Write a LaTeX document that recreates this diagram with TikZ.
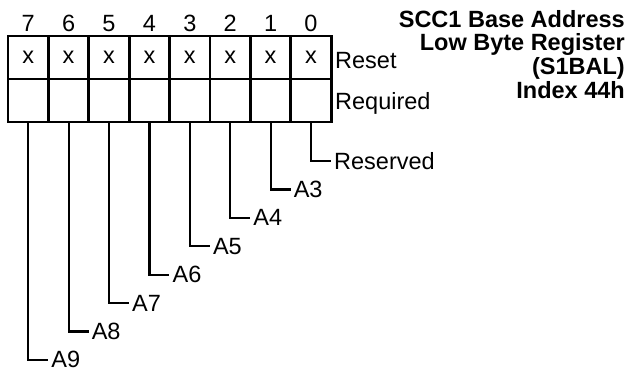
\documentclass[tikz,border=0pt]{standalone}
\usepackage{fontspec}
\setmainfont{Liberation Sans}
\usetikzlibrary{positioning}
\tikzset{
    cell/.style={rectangle, draw=black, line width=2.8pt, minimum width=40.4pt, minimum height=43pt, inner sep=0pt, font=\fontsize{23.5}{27}\selectfont},
    bitnum/.style={anchor=base, inner sep=0pt, font=\fontsize{23.5}{27}\selectfont},
    rowlabel/.style={anchor=base west, inner sep=0pt, font=\fontsize{23.5}{27}\selectfont},
    fieldlabel/.style={anchor=west, inner xsep=3pt, inner ysep=0pt, font=\fontsize{23.5}{27}\selectfont},
    leader/.style={line width=2.2pt, black},
    regtitle/.style={anchor=north east, align=right, inner sep=0pt, font=\bfseries\fontsize{23.5}{23.6}\selectfont},
}

\begin{document}
\begin{tikzpicture}[x=1pt, y=-1pt]
    \useasboundingbox (0,0) rectangle (628,373);

    % register cells, bit 7 on the left
    \foreach \b in {0,...,7} {
        \pgfmathsetmacro{\cx}{8+40.4*(7-\b)+20.2}
        \node[bitnum] (num\b) at (\cx,31) {\b};
        \node[cell] (reset\b) at (\cx,57.5) {x};
        \node[cell] (req\b) at (\cx,100.5) {};
    }

    % row labels
    \node[rowlabel] (resetlbl) at (335,68) {Reset};
    \node[rowlabel] (reqlbl) at (335,109) {Required};

    % bit fields
    \foreach \b/\lab in {0/Reserved,1/A3,2/A4,3/A5,4/A6,5/A7,6/A8,7/A9} {
        \pgfmathsetmacro{\cx}{8+40.4*(7-\b)+20.2}
        \pgfmathsetmacro{\ly}{161+28.4*\b}
        \node[fieldlabel] (field\b) at (\cx+20,\ly) {\lab};
        \draw[leader] (req\b.south) |- (field\b.west);
    }

    % title
    \node[regtitle] (title) at (625,10) {SCC1 Base Address\\Low Byte Register\\(S1BAL)\\Index 44h};
\end{tikzpicture}
\end{document}
